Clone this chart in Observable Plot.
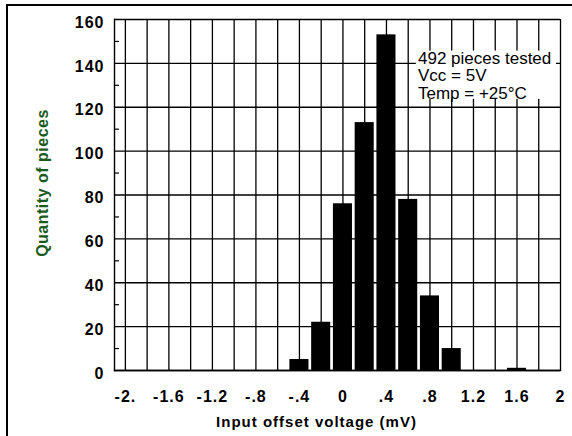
<!DOCTYPE html>
<html><head><meta charset="utf-8">
<script src="https://cdn.jsdelivr.net/npm/d3@7"></script>
<script src="https://cdn.jsdelivr.net/npm/@observablehq/plot@0.6"></script>
<style>
body{margin:0;background:#fff;}
#wrap{position:relative;width:572px;height:436px;overflow:hidden;}
#wrap svg{display:block;position:absolute;left:0;top:0;}
#border{position:absolute;left:5.7px;top:4.3px;width:620px;height:520px;border-left:2.3px solid #000;border-top:2px solid #000;pointer-events:none;}
svg g[font-weight="bold"] text{letter-spacing:1px;}
svg g.ytitle text{letter-spacing:0.5px;}
</style></head><body><div id="wrap"></div>
<script>
// Histogram data: bin centers (mV) and counts (pieces)
const binCenters = [-0.4, -0.2, 0, 0.2, 0.4, 0.6, 0.8, 1.0, 1.6];
const counts = [5, 22, 76, 113, 153, 78, 34, 10, 1];
const binWidth = 0.2;

// Axis ticks and labels
const xTicks = [-2, -1.6, -1.2, -0.8, -0.4, 0, 0.4, 0.8, 1.2, 1.6, 2];
const xTickLabels = ["-2.", "-1.6", "-1.2", "-.8", "-.4", "0", ".4", ".8", "1.2", "1.6", "2"];
const xGridTicks = [-2, -1.8, -1.6, -1.4, -1.2, -1, -0.8, -0.6, -0.4, -0.2, 0, 0.2, 0.4, 0.6, 0.8, 1, 1.2, 1.4, 1.6, 1.8, 2];
const yTicks = [0, 20, 40, 60, 80, 100, 120, 140, 160];
const yMinorTicks = [10, 30, 50, 70, 90, 110, 130, 150];

// Texts
const xTitle = "Input offset voltage (mV)";
const yTitle = "Quantity of pieces";
const noteLines = ["492 pieces tested", "Vcc = 5V", "Temp = +25°C"];
const note = {x: 0.69, y: 145.5, text: noteLines.join("\n")};
const noteBox = {x1: 0.675, x2: 1.963, y1: 123.6, y2: 145.6};

const data = binCenters.map((x, i) => ({x, count: counts[i]}));
const font = "'Liberation Sans', Arial, Helvetica, sans-serif";

const chart = Plot.plot({
  width: 572,
  height: 436,
  marginLeft: 114,
  marginRight: 12,
  marginTop: 19,
  marginBottom: 66,
  x: {domain: [-2.1, 2], label: null},
  y: {domain: [0, 160], label: null},
  style: {fontFamily: font, background: "white", color: "black", overflow: "visible"},
  marks: [
    Plot.gridY(yTicks, {stroke: "black", strokeOpacity: 1, strokeWidth: 1.3}),
    Plot.gridX(xGridTicks, {stroke: "black", strokeOpacity: 1, strokeWidth: 1.3}),
    Plot.rectY(data, {
      x1: d => d.x - binWidth / 2,
      x2: d => d.x + binWidth / 2,
      y: "count",
      fill: "black",
      insetLeft: 1.35,
      insetRight: 1.35
    }),
    Plot.frame({anchor: "left", stroke: "black", strokeWidth: 1.4}),
    Plot.frame({anchor: "bottom", stroke: "black", strokeWidth: 1.4}),
    Plot.axisY(yMinorTicks, {tickSize: 5, dx: 5, text: null, label: null, stroke: "black", strokeWidth: 1.2}),
    Plot.axisY(yTicks, {tickSize: 0, tickPadding: 10, dy: 3, fontSize: 16, fontWeight: "bold", label: null}),
    Plot.axisX(xTicks, {
      tickSize: 0, tickPadding: 20, fontSize: 16, fontWeight: "bold", label: null,
      tickFormat: d => xTickLabels[xTicks.indexOf(d)]
    }),
    Plot.rect([noteBox], {x1: "x1", x2: "x2", y1: "y1", y2: "y2", fill: "white"}),
    Plot.text([note], {x: "x", y: "y", text: "text", textAnchor: "start", lineAnchor: "top",
      fontSize: 17, lineHeight: 1.03, fill: "black"}),
    Plot.text([xTitle], {frameAnchor: "bottom", textAnchor: "middle", lineAnchor: "middle",
      dx: -21, dy: 52, fontSize: 15, fontWeight: "bold", fill: "black"}),
    Plot.text([yTitle], {frameAnchor: "left", textAnchor: "middle", lineAnchor: "middle", rotate: -90,
      dx: -72, dy: -12, fontSize: 16, fontWeight: "bold", fill: "#1b5a1b", className: "ytitle"})
  ]
});

const wrap = document.getElementById("wrap");
wrap.appendChild(chart);
const border = document.createElement("div");
border.id = "border";
wrap.appendChild(border);
</script>
</body></html>
